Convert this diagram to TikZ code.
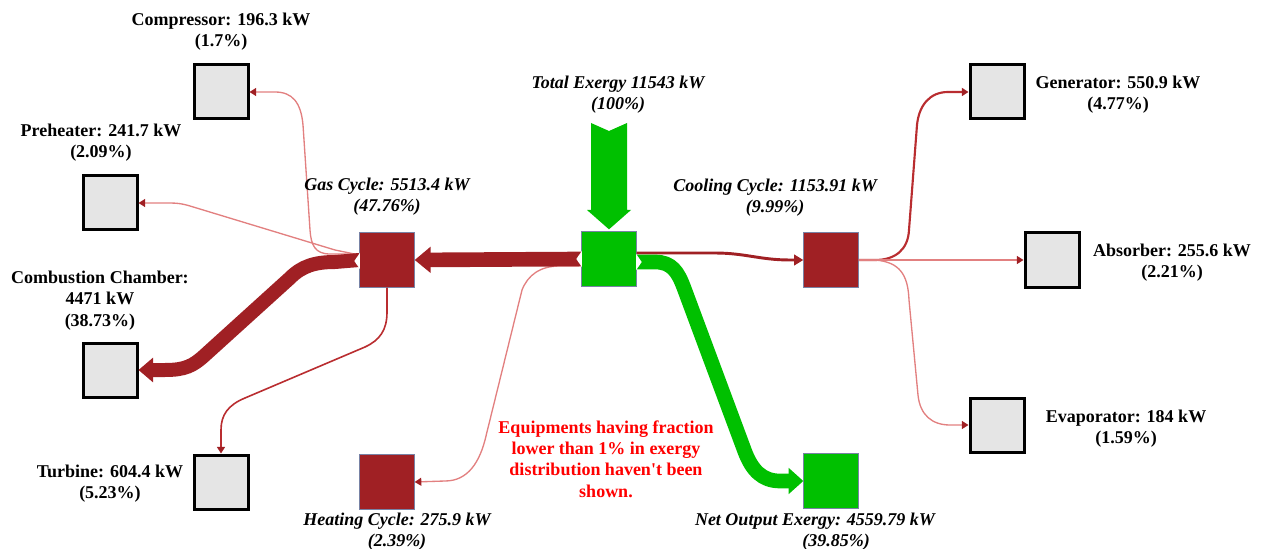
\documentclass[tikz,border=0pt]{standalone}
\usepackage{fontspec}
\setmainfont{Liberation Serif}
\usetikzlibrary{arrows.meta,calc}
\definecolor{dred}{RGB}{160,32,36}
\definecolor{fgreen}{RGB}{0,192,0}
\definecolor{lred}{RGB}{226,128,128}
\definecolor{mred}{RGB}{185,45,48}
\definecolor{edgeblue}{RGB}{120,130,165}
\definecolor{boxgray}{RGB}{229,229,229}
\newcommand{\straightquote}{\XeTeXglyph\XeTeXglyphindex "quotesingle"\relax}
\begin{document}
\begin{tikzpicture}[x=0.75pt,y=-0.75pt,
  gbox/.style={draw=black,line width=2.25pt,fill=boxgray,minimum size=40.5pt,inner sep=0pt},
  rbox/.style={draw=edgeblue,line width=0.5pt,fill=dred,minimum size=41pt,inner sep=0pt},
  grbox/.style={draw=edgeblue,line width=0.5pt,fill=fgreen,minimum size=41pt,inner sep=0pt},
  lbl/.style={font=\fontsize{13.5}{16}\selectfont\bfseries,align=center,inner sep=0pt},
  ilbl/.style={font=\fontsize{13.5}{16}\selectfont\bfseries\itshape,align=center,inner sep=0pt},
  band/.style={line width=11pt},
  thin/.style={line width=1pt,lred,-{Triangle[length=5pt,width=6pt,color=dred]}},
  medium/.style={line width=1.4pt,mred,-{Triangle[length=5pt,width=6pt,color=dred]}}
]
\useasboundingbox (0,0) rectangle (1261,549);
% boxes
\node[gbox] (comp) at (221,92) {};
\node[gbox] (pre) at (110,203) {};
\node[gbox] (comb) at (110,370) {};
\node[gbox] (turb) at (221,482) {};
\node[rbox] (gas) at (387,260) {};
\node[rbox] (heat) at (387,482) {};
\node[grbox] (tot) at (609,259) {};
\node[grbox] (net) at (831,481) {};
\node[rbox] (cool) at (831,260) {};
\node[gbox] (gen) at (997,92) {};
\node[gbox] (abs) at (1052,260) {};
\node[gbox] (evap) at (997,425) {};
% total exergy input arrow
\coordinate (src) at (609,123);
\fill[fgreen] ($(src)+(-18,0)$) -- ($(src)+(0,8)$) -- ($(src)+(18,0)$) -- ($(src)+(18,87)$)
  -- ($(src)+(22,87)$) -- ($(tot.north)+(0,-2)$) -- ($(src)+(-22,87)$) -- ($(src)+(-18,87)$) -- cycle;
% thin flows (drawn first, under bands)
\draw[thin] ($(gas.west)+(0,-6)$) -- (330,254) .. controls (315,254) and (311,245) .. (310,230)
  -- (303,125) .. controls (301,102) and (292,92) .. (275,92) -- (comp.east);
\draw[thin] ($(gas.west)+(0,-5)$) -- (335,250) -- (190,206) .. controls (180,203) and (175,203) .. (165,203) -- (pre.east);
\draw[medium,line width=1.2pt] (gas.south) -- (387,312) .. controls (387,330) and (380,340) .. (365,347)
  -- (245,398) .. controls (228,405) and (221,415) .. (221,430) -- (turb.north);
\draw[thin] ($(tot.west)+(-2,7)$) -- (560,266) .. controls (540,266) and (528,275) .. (522,290)
  -- (486,436) .. controls (480,462) and (468,481) .. (445,481) -- (heat.east);
\draw[medium,line width=1.6pt] (cool.east) -- (875,260) .. controls (895,260) and (908,250) .. (909,230)
  -- (917,125) .. controls (919,105) and (930,92) .. (948,92) -- (gen.west);
\draw[thin] (cool.east) -- (abs.west);
\draw[thin] (cool.east) -- (875,260) .. controls (900,262) and (908,275) .. (909,300)
  -- (918,395) .. controls (920,415) and (932,425) .. (950,425) -- (evap.west);
% dark red line to cooling
\draw[line width=2.2pt,dred,-{Triangle[length=7pt,width=8pt]}] ($(tot.east)+(0,-6)$) -- (715,253)
  .. controls (745,253) and (760,260) .. (790,260) -- (cool.west);
% band total -> gas
\draw[band,dred,-{Triangle[length=12pt,width=19pt]}] (tot.west) -- (gas.east);
\fill[white] ($(tot.west)+(0.5,-8)$) -- ($(tot.west)+(-5,0)$) -- ($(tot.west)+(0.5,8)$) -- cycle;
% band gas -> combustion
\draw[band,line width=10.5pt,dred,-{Triangle[length=11pt,width=18pt]}] (gas.west) -- (335,262)
  .. controls (315,262) and (302,266) .. (290,278) -- (205,355) .. controls (193,366) and (185,370) .. (165,370) -- (comb.east);
\fill[white] ($(gas.west)+(0.5,-7)$) -- ($(gas.west)+(-5,1)$) -- ($(gas.west)+(0.5,9)$) -- cycle;
% band total -> net output
\draw[band,fgreen,-{Triangle[length=11pt,width=19pt]}] ($(tot.east)+(0,3)$) -- (655,262)
  .. controls (672,262) and (678,272) .. (684,288) -- (745,452) .. controls (752,470) and (762,481) .. (780,481) -- (net.west);
\fill[white] ($(tot.east)+(-0.5,-5)$) -- ($(tot.east)+(5,3)$) -- ($(tot.east)+(-0.5,11)$) -- cycle;
% labels
\node[lbl] (lcomp) at (221,32) {Compressor: 196.3 kW\\(1.7\%)};
\node[lbl] (lpre) at (101,143) {Preheater: 241.7 kW\\(2.09\%)};
\node[lbl] (lcomb) at (100,300.5) {Combustion Chamber:\\4471 kW\\(38.73\%)};
\node[lbl] (lturb) at (110,484) {Turbine: 604.4 kW\\(5.23\%)};
\node[ilbl] (lgas) at (387,196.5) {Gas Cycle: 5513.4 kW\\(47.76\%)};
\node[ilbl] (lheat) at (397,532) {Heating Cycle: 275.9 kW\\(2.39\%)};
\node[ilbl] (ltot) at (618,95) {Total Exergy 11543 kW\\(100\%)};
\node[ilbl] (lcool) at (775,198) {Cooling Cycle: 1153.91 kW\\(9.99\%)};
\node[ilbl] (lnet1) at (815,521.5) {Net Output Exergy: 4559.79 kW};
\node[ilbl] (lnet2) at (836,542.5) {(39.85\%)};
\node[lbl] (lgen) at (1118,94.5) {Generator: 550.9 kW\\(4.77\%)};
\node[lbl] (labs) at (1172,263) {Absorber: 255.6 kW\\(2.21\%)};
\node[lbl] (levap) at (1126,428.5) {Evaporator: 184 kW\\(1.59\%)};
\node[lbl,text=red] (note) at (606,459) {Equipments having fraction\\lower than 1\% in exergy\\distribution haven\straightquote t been\\shown.};
\end{tikzpicture}
\end{document}
